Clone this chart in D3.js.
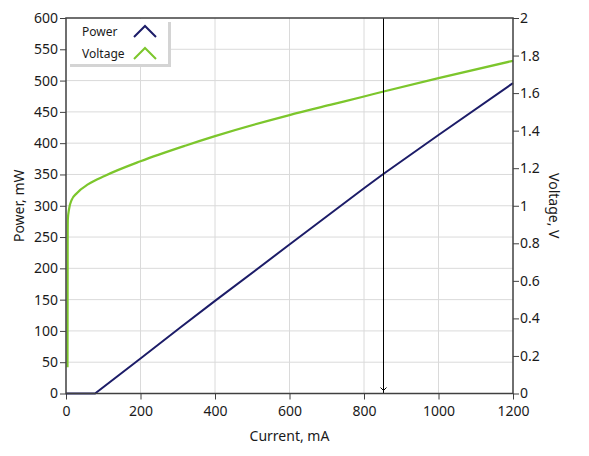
<!DOCTYPE html>
<html>
<head>
  <meta charset="utf-8">
  <title>Power and Voltage vs Current</title>
  <script src="https://d3js.org/d3.v7.min.js"></script>
  <style>
    body { margin: 0; background: #fff; }
    text { font-family: "Segoe UI", "Noto Sans", sans-serif; fill: #1a1a1a; }
    .tick text { font-size: 14px; }
    .grid line { stroke: #dadada; stroke-width: 1; }
    .axis path { display: none; }
    .axis line { stroke: #404040; }
    .title { font-size: 14px; }
    .legend text { font-size: 12px; }
  </style>
</head>
<body>
  <svg width="589" height="456"></svg>
  <script>
    // Power curve (current in mA, power in mW)
    const powerCurrent = [0, 78, 200, 306, 400, 600, 800, 850, 1000, 1200];
    const powerValues  = [0, 0, 56, 105, 148, 238, 328, 350, 413, 496];

    // Voltage curve (current in mA, voltage in V)
    const voltCurrent = [4, 4.5, 5, 8, 15, 29, 60, 105, 200, 320, 400, 600, 709, 800, 850, 1000, 1200];
    const voltValues  = [0.14, 0.85, 0.93, 0.98, 1.03, 1.067, 1.115, 1.16, 1.237, 1.32, 1.371, 1.483, 1.537, 1.582, 1.607, 1.68, 1.772];

    const xTicks = [0, 200, 400, 600, 800, 1000, 1200];
    const powerTicks = d3.range(0, 601, 50);
    const voltTicks = [0, 0.2, 0.4, 0.6, 0.8, 1, 1.2, 1.4, 1.6, 1.8, 2];
    const cursorCurrent = 850;

    const svg = d3.select("svg");
    const pLeft = 66, pRight = 513, pTop = 18, pBottom = 393.5;

    const x = d3.scaleLinear().domain([0, 1200]).range([pLeft, pRight]);
    const yP = d3.scaleLinear().domain([0, 600]).range([pBottom, pTop]);
    const yV = d3.scaleLinear().domain([0, 2]).range([pBottom, pTop]);

    // grid
    svg.append("g").attr("class", "grid")
      .selectAll("line").data(powerTicks.slice(1, -1)).enter().append("line")
      .attr("x1", pLeft).attr("x2", pRight)
      .attr("y1", d => yP(d)).attr("y2", d => yP(d));
    svg.append("g").attr("class", "grid")
      .selectAll("line").data(xTicks.slice(1, -1)).enter().append("line")
      .attr("y1", pTop).attr("y2", pBottom)
      .attr("x1", d => x(d)).attr("x2", d => x(d));

    // axes
    svg.append("g").attr("class", "axis")
      .attr("transform", `translate(0,${pBottom})`)
      .call(d3.axisBottom(x).tickValues(xTicks).tickSize(6).tickPadding(7)
        .tickFormat(d3.format("d")));
    svg.append("g").attr("class", "axis")
      .attr("transform", `translate(${pLeft},0)`)
      .call(d3.axisLeft(yP).tickValues(powerTicks).tickSize(6).tickPadding(2));
    svg.append("g").attr("class", "axis")
      .attr("transform", `translate(${pRight},0)`)
      .call(d3.axisRight(yV).tickValues(voltTicks).tickSize(6).tickPadding(1)
        .tickFormat(d3.format("~g")));

    // curves
    const powerLine = d3.line()
      .x((d, i) => x(powerCurrent[i]))
      .y(d => yP(d));
    svg.append("path")
      .datum(powerValues)
      .attr("fill", "none")
      .attr("stroke", "#1c1c68")
      .attr("stroke-width", 2)
      .attr("d", powerLine);

    const voltLine = d3.line()
      .x((d, i) => x(voltCurrent[i]))
      .y(d => yV(d))
      .curve(d3.curveMonotoneX);
    svg.append("path")
      .datum(voltValues)
      .attr("fill", "none")
      .attr("stroke", "#7cc62c")
      .attr("stroke-width", 2.2)
      .attr("d", voltLine);

    // cursor
    const cx = Math.round(x(cursorCurrent)) + 0.5;
    svg.append("line")
      .attr("x1", cx).attr("x2", cx)
      .attr("y1", pTop).attr("y2", pBottom)
      .attr("stroke", "#000").attr("stroke-width", 1);
    svg.append("path")
      .attr("d", `M${cx - 3},${pBottom - 6} L${cx},${pBottom - 3} L${cx + 3},${pBottom - 6}`)
      .attr("fill", "none").attr("stroke", "#000").attr("stroke-width", 1);

    // frame
    svg.append("rect")
      .attr("x", pLeft).attr("y", pTop)
      .attr("width", pRight - pLeft).attr("height", pBottom - pTop)
      .attr("fill", "none").attr("stroke", "#404040").attr("stroke-width", 1.5);

    // legend
    const legend = svg.append("g").attr("class", "legend");
    legend.append("rect")
      .attr("x", 70).attr("y", 22).attr("width", 101).attr("height", 45)
      .attr("fill", "#d4d4d4");
    legend.append("rect")
      .attr("x", 67).attr("y", 19).attr("width", 101).attr("height", 45)
      .attr("fill", "#fff");
    const items = [
      { name: "Power", color: "#1c1c68" },
      { name: "Voltage", color: "#7cc62c" }
    ];
    items.forEach((it, i) => {
      const yy = 36 + i * 22;
      legend.append("text").attr("x", 82).attr("y", yy).text(it.name);
      legend.append("path")
        .attr("d", `M134,${yy + 1} L145,${yy - 10} L156,${yy + 1}`)
        .attr("fill", "none").attr("stroke", it.color).attr("stroke-width", 2);
    });

    // titles
    svg.append("text").attr("class", "title")
      .attr("x", (pLeft + pRight) / 2).attr("y", 441)
      .attr("text-anchor", "middle").text("Current, mA");
    svg.append("text").attr("class", "title")
      .attr("transform", `translate(24,${(pTop + pBottom) / 2}) rotate(-90)`)
      .attr("text-anchor", "middle").text("Power, mW");
    svg.append("text").attr("class", "title")
      .attr("transform", `translate(549,${(pTop + pBottom) / 2}) rotate(90)`)
      .attr("text-anchor", "middle").text("Voltage, V");
  </script>
</body>
</html>
